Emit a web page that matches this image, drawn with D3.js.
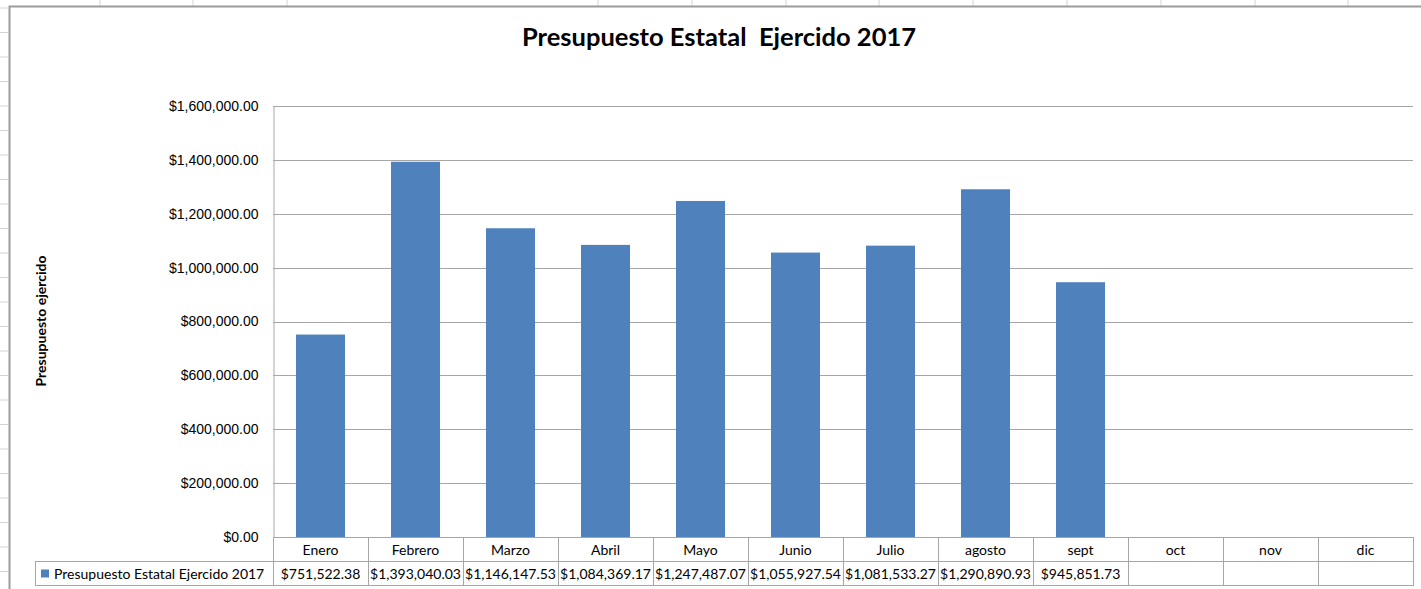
<!DOCTYPE html>
<meta charset="utf-8">
<style>
body { margin: 0; background: #fff; }
svg { display: block; font-family: Lato, "Open Sans", sans-serif; }
.tick text { font-size: 14px; fill: #000; }
.cell { fill: none; stroke: #a6a6a6; stroke-width: 1px; }
.celltext { font-size: 14px; text-anchor: middle; fill: #000; }
.title { font-size: 25.5px; font-weight: bold; text-anchor: middle; white-space: pre; }
</style>
<svg width="1421" height="589"></svg>
<script src="https://cdn.jsdelivr.net/npm/d3@7"></script>
<script>

const months = ['Enero', 'Febrero', 'Marzo', 'Abril', 'Mayo', 'Junio', 'Julio', 'agosto', 'sept', 'oct', 'nov', 'dic'];
const values = [751522.38, 1393040.03, 1146147.53, 1084369.17, 1247487.07, 1055927.54, 1081533.27, 1290890.93, 945851.73, null, null, null];
const yTicks = [0, 200000, 400000, 600000, 800000, 1000000, 1200000, 1400000, 1600000];
const seriesName = 'Presupuesto Estatal Ejercido 2017';
const titleText = 'Presupuesto Estatal  Ejercido 2017';
const yTitle = 'Presupuesto ejercido';

// spreadsheet grid behind the chart
const sheetCols = [100, 193, 287, 598, 692, 786, 879, 973, 1067, 1161, 1255, 1348];
const sheetRows = d3.range(8, 589, 24.5);

const svg = d3.select('svg');
const plot = { left: 273, right: 1413, top: 106, bottom: 537 };
const rowH = 24;

const x = d3.scaleBand()
  .domain(months)
  .range([plot.left, plot.right])
  .paddingInner(0.484)
  .paddingOuter(0.242);

const xCell = d3.scaleBand()
  .domain(months)
  .range([plot.left, plot.right]);

const y = d3.scaleLinear()
  .domain([0, 1600000])
  .range([plot.bottom, plot.top]);

const money = d3.format('$,.2f');

// sheet background
svg.append('g').selectAll('line')
  .data(sheetCols)
  .enter().append('line')
    .attr('x1', d => d).attr('x2', d => d)
    .attr('y1', 0).attr('y2', 6)
    .attr('stroke', '#d4d4d4');
svg.append('g').selectAll('line')
  .data(sheetRows)
  .enter().append('line')
    .attr('x1', 0).attr('x2', 8)
    .attr('y1', d => d).attr('y2', d => d)
    .attr('stroke', '#d4d4d4');

// chart frame
svg.append('path')
  .attr('d', 'M9.5,600 V6.5 H1430')
  .attr('fill', 'none')
  .attr('stroke', '#9c9c9c')
  .attr('stroke-width', 2);

// title
svg.append('text')
  .attr('class', 'title')
  .attr('x', 719)
  .attr('y', 46)
  .text(titleText);

// y title
svg.append('text')
  .attr('transform', 'translate(46,321) rotate(-90)')
  .attr('text-anchor', 'middle')
  .attr('font-size', '14px')
  .attr('font-weight', 'bold')
  .text(yTitle);

// gridlines
svg.append('g').selectAll('line')
  .data(yTicks)
  .enter().append('line')
    .attr('x1', plot.left).attr('x2', plot.right)
    .attr('y1', d => Math.round(y(d)) + 0.5).attr('y2', d => Math.round(y(d)) + 0.5)
    .attr('stroke', '#a6a6a6');

// y axis
const yAxis = svg.append('g')
  .attr('transform', `translate(${plot.left + 0.5},0)`)
  .call(d3.axisLeft(y).tickValues(yTicks).tickFormat(money).tickSize(0).tickPadding(15));
yAxis.select('.domain').attr('stroke', '#a6a6a6');

// bars
svg.append('g').selectAll('rect')
  .data(months.map((m, i) => ({ m, v: values[i] })).filter(d => d.v != null))
  .enter().append('rect')
    .attr('x', d => x(d.m))
    .attr('width', x.bandwidth())
    .attr('y', d => y(d.v))
    .attr('height', d => y(0) - y(d.v))
    .attr('fill', '#4f81bd');

// data table
const table = svg.append('g');
const r1 = plot.bottom + 0.5, r2 = r1 + rowH;

table.selectAll('.c1')
  .data(months)
  .enter().append('rect')
    .attr('class', 'cell')
    .attr('x', d => Math.round(xCell(d)) + 0.5)
    .attr('y', r1)
    .attr('width', xCell.bandwidth())
    .attr('height', rowH);

table.selectAll('.c2')
  .data(months)
  .enter().append('rect')
    .attr('class', 'cell')
    .attr('x', d => Math.round(xCell(d)) + 0.5)
    .attr('y', r2)
    .attr('width', xCell.bandwidth())
    .attr('height', rowH);

table.append('rect')
  .attr('class', 'cell')
  .attr('x', 35.5)
  .attr('y', r2)
  .attr('width', plot.left - 35)
  .attr('height', rowH);

table.selectAll('.lab')
  .data(months)
  .enter().append('text')
    .attr('class', 'celltext')
    .attr('x', d => xCell(d) + xCell.bandwidth() / 2)
    .attr('y', r1 + 17)
    .text(d => d);

table.selectAll('.val')
  .data(months.map((m, i) => ({ m, v: values[i] })))
  .enter().append('text')
    .attr('class', 'celltext')
    .attr('x', d => xCell(d.m) + xCell.bandwidth() / 2)
    .attr('y', r2 + 17)
    .text(d => d.v == null ? '' : money(d.v));

table.append('rect')
  .attr('x', 41)
  .attr('y', r2 + 8)
  .attr('width', 8)
  .attr('height', 8)
  .attr('fill', '#4f81bd');

table.append('text')
  .attr('x', 54)
  .attr('y', r2 + 17)
  .attr('font-size', '14px')
  .text(seriesName);

</script>
